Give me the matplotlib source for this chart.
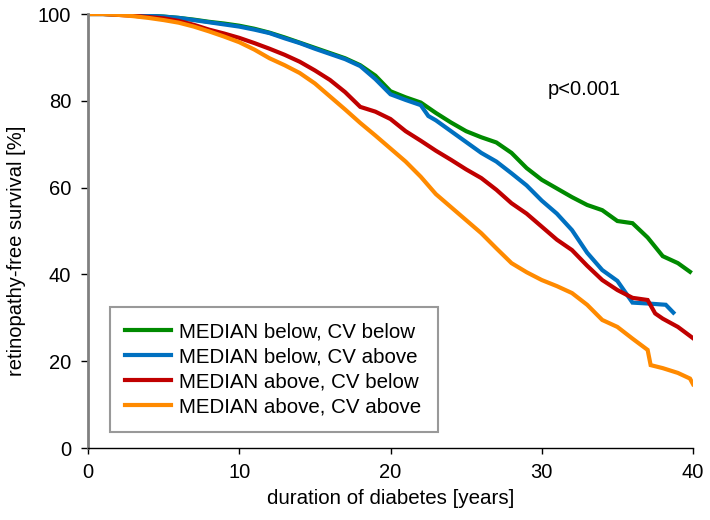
import matplotlib
matplotlib.use("Agg")
import matplotlib.pyplot as plt

plt.rcParams['font.family'] = ['Liberation Sans', 'DejaVu Sans']

labels = ["MEDIAN below, CV below", "MEDIAN below, CV above",
          "MEDIAN above, CV below", "MEDIAN above, CV above"]
colors = ["#008A00", "#0070C0", "#C00000", "#FF8A00"]

green_t = [0, 1, 2, 3, 4, 5, 6, 7, 8, 9, 10, 11, 12, 13, 14, 15, 16, 17, 18, 19, 20,
           21, 22, 23, 24, 25, 26, 27, 28, 29, 30, 31, 32, 33, 34, 35, 36, 37, 38, 39, 39.8]
green_s = [100, 100, 99.9, 99.8, 99.6, 99.4, 99.1, 98.7, 98.2, 97.8, 97.3, 96.6, 95.7, 94.6,
           93.4, 92.2, 91, 89.8, 88.2, 85.8, 82.2, 80.8, 79.6, 77.2, 75, 73, 71.6, 70.4, 68,
           64.5, 61.8, 59.8, 57.8, 56, 54.8, 52.3, 51.8, 48.5, 44.2, 42.6, 40.6]

blue_t = [0, 1, 2, 3, 4, 5, 6, 7, 8, 9, 10, 11, 12, 13, 14, 15, 16, 17, 18, 19, 20,
          21, 22, 22.5, 23, 24, 25, 26, 27, 28, 29, 30, 31, 32, 33, 34, 35, 36, 37, 38.2, 38.7]
blue_s = [100, 100, 99.9, 99.8, 99.6, 99.4, 99.1, 98.6, 98.1, 97.6, 97.1, 96.4, 95.6, 94.4,
          93.3, 92, 90.8, 89.6, 88, 85, 81.5, 80.2, 79, 76.5, 75.5, 73, 70.5, 68, 66, 63.3,
          60.5, 57, 54, 50.2, 45, 41, 38.5, 33.5, 33.3, 33, 31.2]

red_t = [0, 1, 2, 3, 4, 5, 6, 7, 8, 9, 10, 11, 12, 13, 14, 15, 16, 17, 18, 19, 20,
         21, 22, 23, 24, 25, 26, 27, 28, 29, 30, 31, 32, 33, 34, 35, 36, 37, 37.5, 38, 39, 40]
red_s = [100, 100, 99.8, 99.6, 99.3, 99, 98.4, 97.5, 96.4, 95.5, 94.5, 93.3, 92, 90.6, 89,
         87, 84.8, 82, 78.6, 77.5, 75.8, 73, 70.8, 68.5, 66.4, 64.2, 62.2, 59.5, 56.4, 54,
         51, 48, 45.6, 42, 38.7, 36.4, 34.6, 34.1, 31, 29.8, 27.9, 25.3]

orange_t = [0, 1, 2, 3, 4, 5, 6, 7, 8, 9, 10, 11, 12, 13, 14, 15, 16, 17, 18, 19, 20,
            21, 22, 23, 24, 25, 26, 27, 28, 29, 30, 31, 32, 33, 34, 35, 36, 37, 37.2, 38, 39, 39.8, 40]
orange_s = [100, 100, 99.8, 99.5, 99.1, 98.6, 98, 97.1, 96, 94.8, 93.5, 91.8, 89.8, 88.2,
            86.4, 84, 81, 78, 74.9, 72, 69, 66, 62.5, 58.5, 55.5, 52.5, 49.5, 46, 42.6, 40.5,
            38.7, 37.3, 35.7, 33, 29.5, 27.9, 25.2, 22.6, 19.1, 18.4, 17.3, 16, 14.7]

series = [(green_t, green_s), (blue_t, blue_s), (red_t, red_s), (orange_t, orange_s)]

fig = plt.figure(figsize=(7.1, 5.2), dpi=100)
ax = fig.add_axes([88/710, 1-448/520, (693-88)/710, (448-14)/520])

for (t, s), c, lab in zip(series, colors, labels):
    ax.plot(t, s, color=c, lw=3, label=lab, solid_joinstyle='miter')

ax.set_xlim(0, 40)
ax.set_ylim(0, 100)
ax.set_xticks([0, 10, 20, 30, 40])
ax.set_yticks([0, 20, 40, 60, 80, 100])
ax.tick_params(axis='both', labelsize=14.5, direction='out', width=1, color='black')
ax.tick_params(axis='y', length=5, pad=7)
ax.tick_params(axis='x', length=4, pad=7)
ax.spines['top'].set_visible(False)
ax.spines['right'].set_visible(False)
ax.spines['left'].set_color('#808080')
ax.spines['left'].set_linewidth(2)
ax.spines['bottom'].set_color('black')
ax.spines['bottom'].set_linewidth(1)

ax.set_xlabel("duration of diabetes [years]", fontsize=14.8)
ax.xaxis.set_label_coords(0.5, -(489-448)/434)
ax.set_ylabel("retinopathy-free survival [%]", fontsize=14.5)
ax.yaxis.set_label_coords(-(88-26)/605, 0.454)

ax.text(30.4, 82.5, "p<0.001", fontsize=14.5, va='center', ha='left')

leg = ax.legend(loc='lower left', bbox_to_anchor=((110-88)/605, (448-432)/434,
                (438-110)/605, (432-307)/434), mode='expand',
                fontsize=14.8, frameon=True, fancybox=False, handlelength=2.2,
                handletextpad=0.4, labelspacing=0.3, borderpad=0.75, borderaxespad=0)
leg.get_frame().set_edgecolor('#808080')
leg.get_frame().set_linewidth(1.5)

fig.savefig("out.png", dpi=100)
